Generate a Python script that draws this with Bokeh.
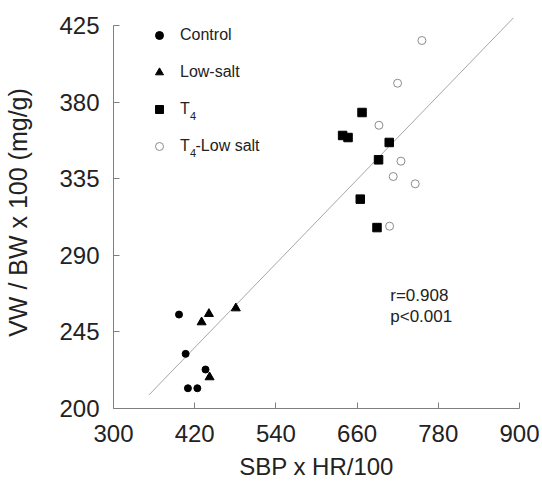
from bokeh.plotting import figure
from bokeh.models import Range1d, FixedTicker, Legend, LegendItem, Label
from bokeh.embed import file_html
from bokeh.resources import INLINE

# ---- data ----
control_x = [396.8, 406.6, 436.0, 410.0, 423.9]
control_y = [255.2, 232.1, 222.9, 211.9, 211.9]

lowsalt_x = [441.0, 430.2, 480.8, 442.0]
lowsalt_y = [255.6, 250.7, 258.9, 218.4]

t4_x = [667.3, 638.6, 646.6, 707.5, 691.7, 664.7, 689.4]
t4_y = [373.9, 360.4, 359.2, 356.3, 346.1, 323.0, 306.3]

t4low_x = [755.8, 719.8, 692.3, 724.8, 713.4, 745.9, 708.0]
t4low_y = [416.2, 391.1, 366.4, 345.3, 336.3, 332.0, 307.1]

fit_x = [352.5, 891.0]
fit_y = [208.0, 429.5]

x_ticks = [300, 420, 540, 660, 780, 900]
y_ticks = [200, 245, 290, 335, 380, 425]

FONT = "Liberation Sans"
TXT = "#222222"
AX = "#7f7f7f"

p = figure(width=540, height=490, output_backend="svg", toolbar_location=None,
           x_range=Range1d(300, 900), y_range=Range1d(200, 430.3),
           min_border_left=113, min_border_right=21, min_border_top=16, min_border_bottom=82)
p.outline_line_color = None
p.xgrid.visible = False
p.ygrid.visible = False

for ax, ticks in ((p.xaxis[0], x_ticks), (p.yaxis[0], y_ticks)):
    ax.ticker = FixedTicker(ticks=ticks)
    ax.minor_tick_line_color = None
    ax.major_tick_in = 6
    ax.major_tick_out = 0
    ax.axis_line_color = AX
    ax.major_tick_line_color = AX
    ax.major_label_text_font = FONT
    ax.major_label_text_font_size = "24px"
    ax.major_label_text_color = TXT
    ax.axis_label_text_font = FONT
    ax.axis_label_text_font_style = "normal"
    ax.axis_label_text_color = TXT

p.yaxis[0].bounds = (200, 425)
p.xaxis[0].major_label_standoff = 16
p.yaxis[0].major_label_standoff = 14
p.xaxis[0].axis_label = "SBP x HR/100"
p.xaxis[0].axis_label_text_font_size = "24px"
p.xaxis[0].axis_label_standoff = 8
p.yaxis[0].axis_label = "VW / BW x 100 (mg/g)"
p.yaxis[0].axis_label_text_font_size = "25px"
p.yaxis[0].axis_label_standoff = 24

p.line(fit_x, fit_y, line_color="#a6a6a6", line_width=1)

r1 = p.scatter(control_x, control_y, marker="circle", size=7, fill_color="black", line_color="black")
r2 = p.scatter(lowsalt_x, lowsalt_y, marker="triangle", size=9, fill_color="black", line_color="black")
r3 = p.scatter(t4_x, t4_y, marker="square", size=8.5, fill_color="black", line_color="black")
r4 = p.scatter(t4low_x, t4low_y, marker="circle", size=8, fill_color="white", line_color="#8c8c8c")

legend = Legend(items=[LegendItem(label="Control", renderers=[r1]),
                       LegendItem(label="Low-salt", renderers=[r2]),
                       LegendItem(label="T", renderers=[r3]),
                       LegendItem(label="T", renderers=[r4])],
                location=(36, 252), padding=0, margin=0, spacing=17,
                glyph_width=20, glyph_height=20, label_height=20, label_standoff=11,
                border_line_color=None, background_fill_alpha=0,
                label_text_font=FONT, label_text_font_size="16px", label_text_color=TXT)
p.add_layout(legend)

# subscripts and rest of legend text (screen units relative to frame)
def slabel(x, y, text, size):
    p.add_layout(Label(x=x, y=y, x_units="screen", y_units="screen", text=text,
                       text_font=FONT, text_font_size=size, text_color=TXT,
                       text_baseline="middle", text_align="left"))

slabel(76.5, 392 - 92 - 7, "4", "11px")
slabel(76.5, 392 - 129 - 7, "4", "11px")
slabel(82, 392 - 129, "-Low salt", "16px")

for yv, t in ((266.4, "r=0.908"), (254.0, "p<0.001")):
    p.add_layout(Label(x=709, y=yv, text=t, text_font=FONT, text_font_size="17px",
                       text_color=TXT, text_baseline="middle", text_align="left"))

open("out.html", "w").write(file_html(p, INLINE))
